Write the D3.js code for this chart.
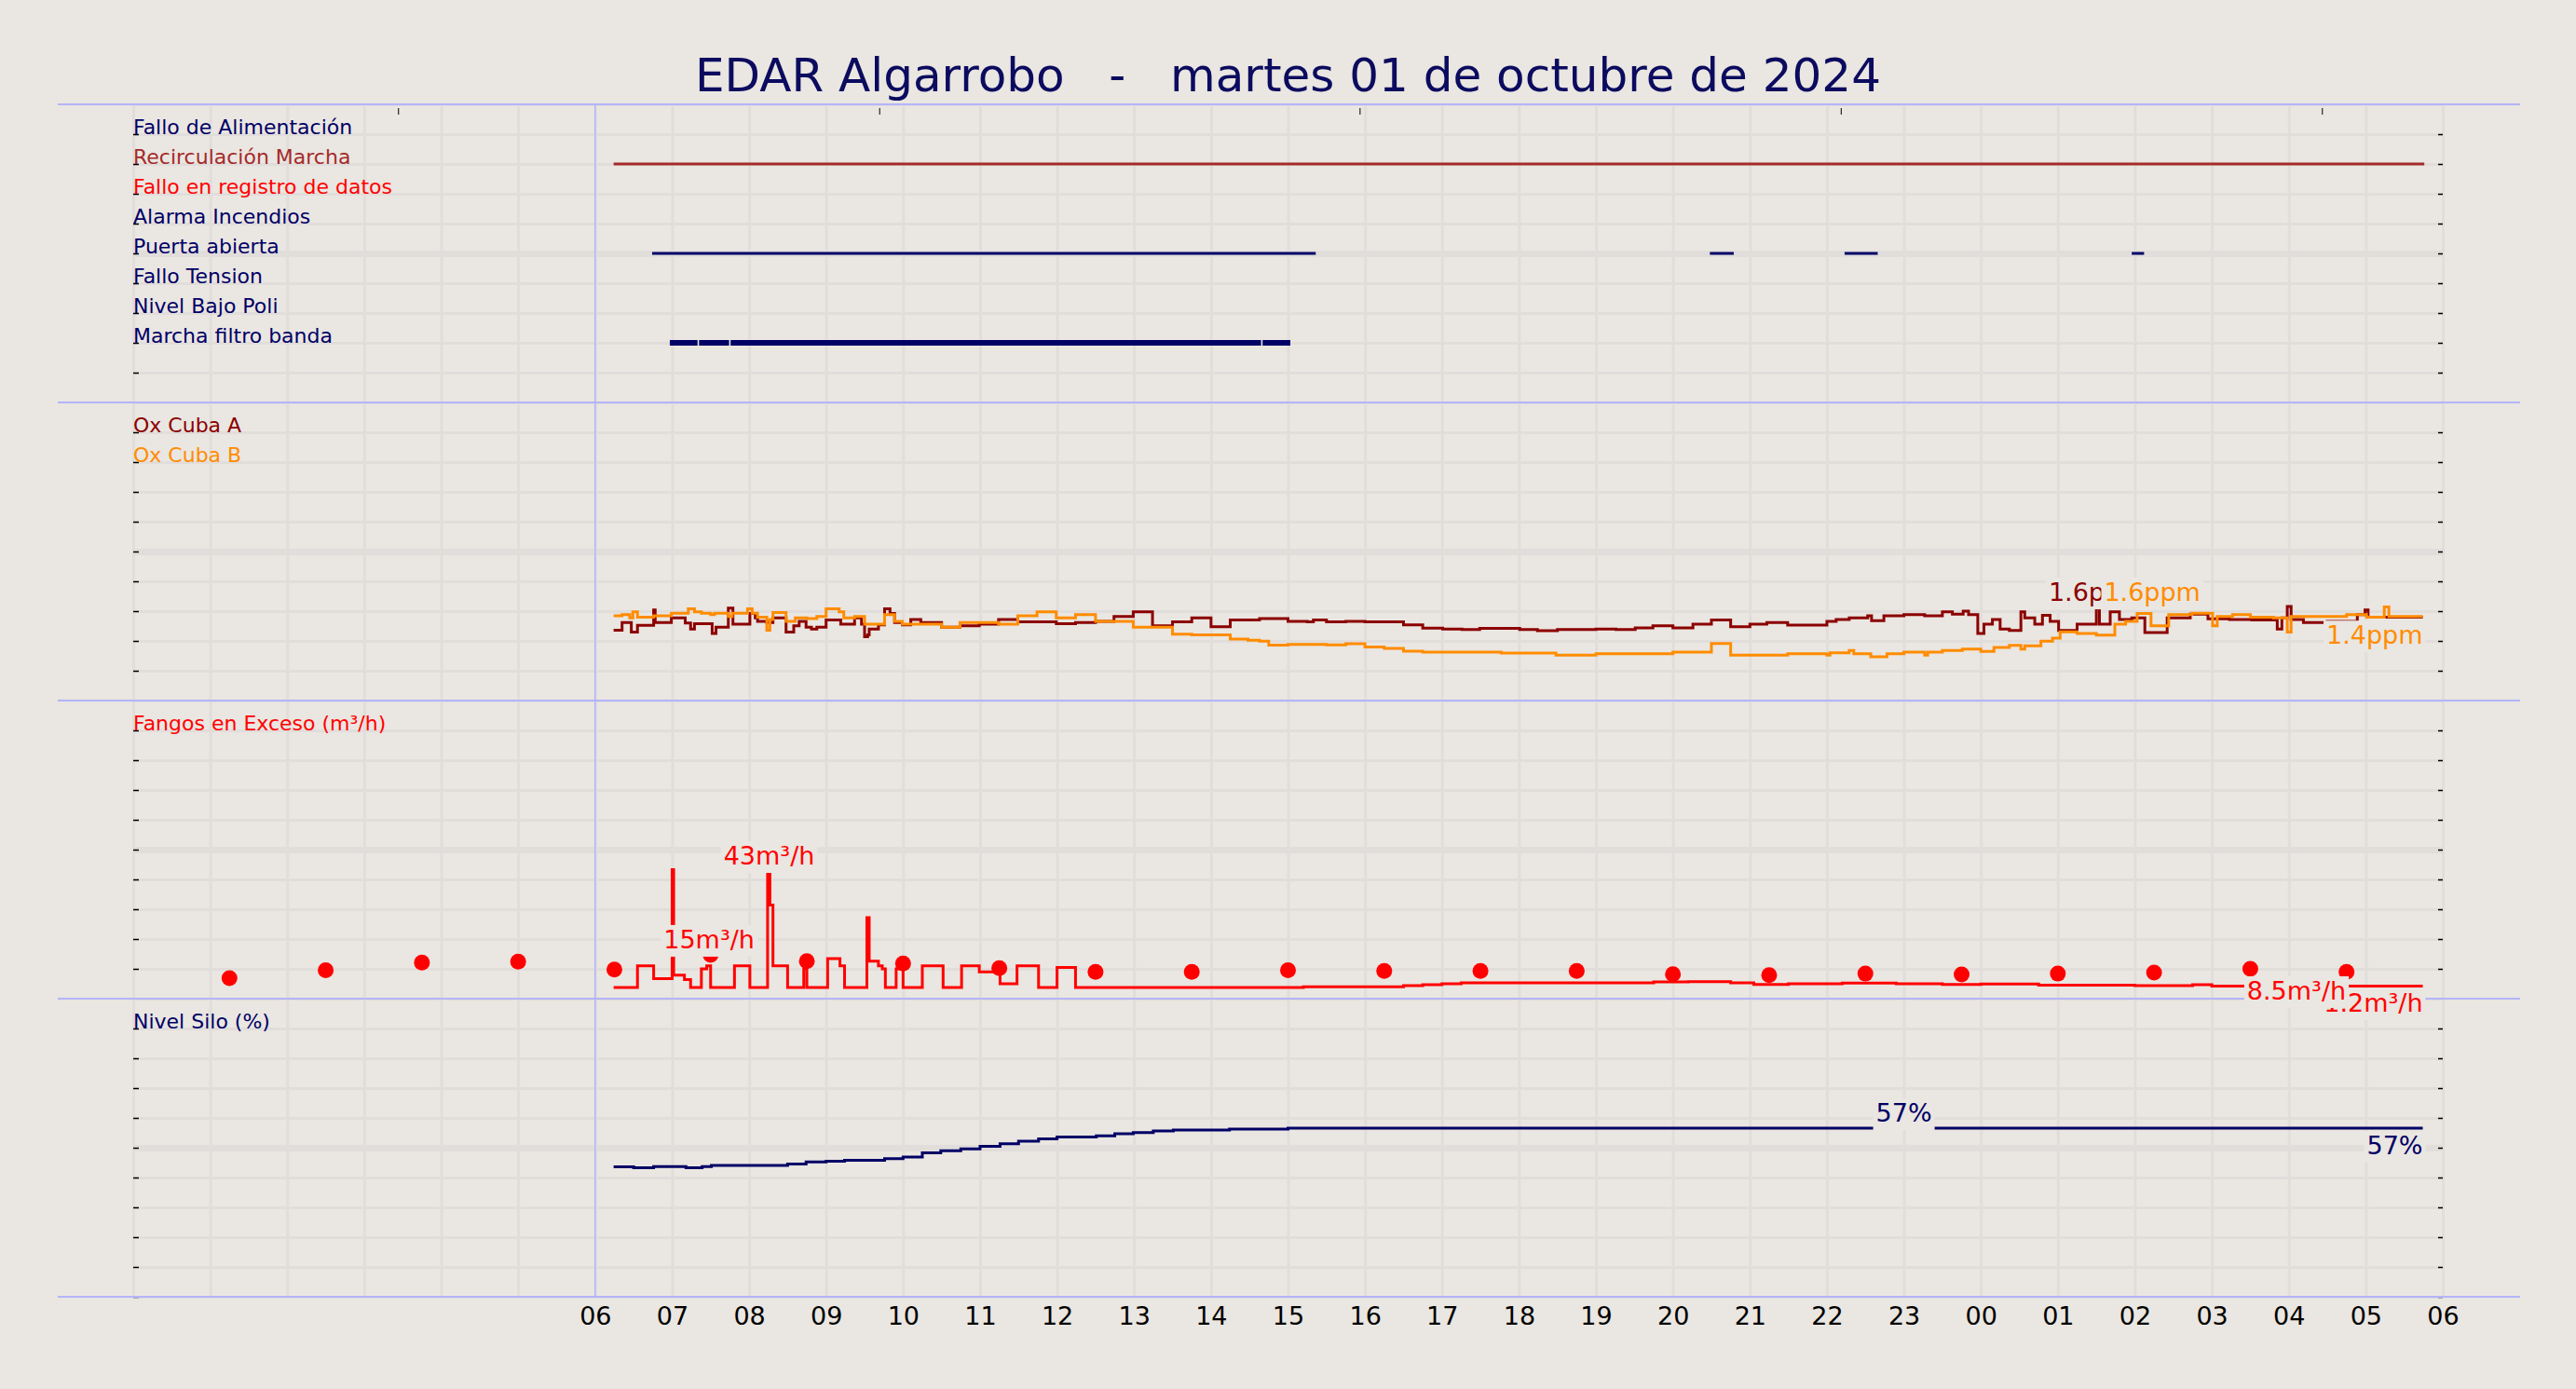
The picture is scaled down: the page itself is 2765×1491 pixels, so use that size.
<!DOCTYPE html>
<html>
<head>
<meta charset="utf-8">
<script src="https://cdn.jsdelivr.net/npm/d3@7"></script>
<style>
  body { margin: 0; background: #eae6e1; }
  svg text { font-family: "DejaVu Sans", sans-serif; }
</style>
</head>
<body>
<svg id="chart" width="2765" height="1491"></svg>
<script>
const title = "EDAR Algarrobo   -   martes 01 de octubre de 2024";
const startHour = 6.24, endHour = 29.74;

// x axis: hours counted from 00:00 of the day
const tickHours = d3.range(6, 31);
const tickLabels = ["06","07","08","09","10","11","12","13","14","15","16","17","18",
  "19","20","21","22","23","00","01","02","03","04","05","06"];
const topTickHours = [3.44, 9.69, 15.93, 22.18, 28.43];

// panel 1: on/off signals
const signalLabels = ["Fallo de Alimentación", "Recirculación Marcha", "Fallo en registro de datos",
  "Alarma Incendios", "Puerta abierta", "Fallo Tension", "Nivel Bajo Poli", "Marcha filtro banda"];
const signalColors = ["#000066", "#a52a2a", "#ff0000", "#000066", "#000066", "#000066", "#000066", "#000066"];
const recirculacion = [[6.24, 29.76]];
const puertaAbierta = [[6.74, 15.36], [20.48, 20.79], [22.23, 22.66], [25.96, 26.12]];
const filtroBanda = [[6.97, 7.33], [7.35, 7.74], [7.76, 14.65], [14.67, 15.03]];

// panel 2: oxygen (ppm)
const oxLabels = ["Ox Cuba A", "Ox Cuba B"];
const oxColors = ["#8b0000", "#ff8c00"];
const oxCubaA = [[6.24,1.18],[6.35,1.31],[6.47,1.15],[6.55,1.26],[6.76,1.52],[6.78,1.31],[6.99,1.385],
  [7.17,1.30],[7.24,1.20],[7.29,1.29],[7.52,1.125],[7.57,1.23],[7.73,1.55],[7.79,1.28],[8.01,1.46],
  [8.08,1.385],[8.11,1.33],[8.23,1.31],[8.31,1.385],[8.48,1.15],[8.58,1.255],[8.65,1.33],[8.74,1.23],
  [8.81,1.20],[8.88,1.23],[9.0,1.35],[9.19,1.28],[9.37,1.385],[9.46,1.28],[9.5,1.07],[9.54,1.10],
  [9.56,1.20],[9.68,1.27],[9.76,1.54],[9.83,1.46],[9.89,1.31],[9.99,1.27],[10.1,1.36],[10.23,1.31],
  [10.5,1.23],[10.74,1.255],[10.99,1.28],[11.24,1.36],[11.49,1.32],[11.99,1.29],[12.24,1.31],[12.5,1.33],
  [12.74,1.41],[12.99,1.49],[13.24,1.255],[13.5,1.32],[13.75,1.385],[14.0,1.24],[14.25,1.35],[14.63,1.375],
  [15.0,1.33],[15.25,1.32],[15.33,1.35],[15.5,1.32],[15.75,1.33],[16.0,1.32],[16.5,1.27],[16.75,1.215],
  [17.01,1.20],[17.26,1.19],[17.49,1.21],[18.01,1.19],[18.24,1.17],[18.5,1.19],[19.0,1.20],[19.26,1.19],
  [19.51,1.22],[19.74,1.255],[20.0,1.22],[20.26,1.28],[20.5,1.35],[20.75,1.24],[21.0,1.28],[21.22,1.31],
  [21.49,1.265],[22.0,1.33],[22.12,1.36],[22.29,1.385],[22.53,1.42],[22.58,1.34],[22.74,1.42],[23.0,1.44],
  [23.27,1.42],[23.5,1.49],[23.63,1.45],[23.77,1.50],[23.84,1.44],[23.96,1.125],[24.04,1.28],[24.15,1.36],
  [24.25,1.20],[24.37,1.175],[24.52,1.49],[24.57,1.385],[24.7,1.28],[24.8,1.43],[24.9,1.33],[25.01,1.175],
  [25.25,1.28],[25.5,1.54],[25.54,1.28],[25.68,1.49],[25.8,1.36],[25.96,1.385],[26.13,1.14],[26.42,1.385],
  [26.72,1.45],[26.95,1.37],[27.23,1.36],[27.52,1.35],[27.85,1.20],[27.91,1.385],[27.98,1.58],[28.03,1.36],
  [28.19,1.31],[28.5,1.33],[28.89,1.44],[28.99,1.52],[29.03,1.40]];
const oxCubaB = [[6.24,1.42],[6.35,1.44],[6.45,1.385],[6.49,1.49],[6.55,1.40],[6.76,1.42],[6.99,1.465],
  [7.21,1.54],[7.29,1.49],[7.38,1.465],[7.5,1.44],[7.55,1.465],[7.73,1.41],[7.78,1.465],[7.98,1.54],
  [8.04,1.465],[8.11,1.40],[8.23,1.18],[8.27,1.36],[8.31,1.475],[8.48,1.33],[8.6,1.385],[8.75,1.375],
  [8.88,1.41],[9.0,1.54],[9.17,1.49],[9.23,1.385],[9.37,1.41],[9.5,1.28],[9.76,1.44],[9.89,1.33],
  [9.99,1.28],[10.5,1.23],[10.74,1.31],[11.24,1.28],[11.49,1.42],[11.74,1.49],[11.99,1.385],[12.24,1.44],
  [12.5,1.33],[12.99,1.23],[13.5,1.115],[13.75,1.10],[14.25,1.03],[14.48,1.01],[14.63,0.995],[14.75,0.93],
  [15.0,0.943],[15.5,0.932],[15.75,0.953],[16.0,0.90],[16.25,0.875],[16.5,0.828],[16.75,0.812],[17.77,0.797],
  [18.48,0.76],[19.0,0.786],[20.0,0.812],[20.5,0.958],[20.75,0.76],[21.49,0.786],[22.0,0.76],[22.04,0.802],
  [22.29,0.838],[22.35,0.786],[22.57,0.734],[22.78,0.786],[23.0,0.812],[23.27,0.76],[23.31,0.812],[23.5,0.838],
  [23.76,0.865],[24.0,0.823],[24.17,0.89],[24.37,0.927],[24.52,0.865],[24.57,0.917],[24.78,0.995],[24.93,1.047],
  [25.03,1.151],[25.25,1.125],[25.5,1.099],[25.74,1.28],[25.88,1.33],[26.03,1.46],[26.21,1.255],[26.44,1.44],
  [26.74,1.465],[27.01,1.255],[27.07,1.41],[27.27,1.44],[27.5,1.40],[27.8,1.385],[27.98,1.15],[28.03,1.41],
  [28.75,1.44],[29.01,1.40],[29.24,1.57],[29.3,1.41]];
const oxNotes = [
  { h: 24.88, v: 1.67, text: "1.6ppm", color: "#8b0000", anchor: "start" },
  { h: 25.6, v: 1.67, text: "1.6ppm", color: "#ff8c00", anchor: "start" },
  { h: 29.74, v: 0.95, text: "1.4ppm", color: "#ff8c00", anchor: "end" }];

// panel 3: excess sludge (m³/h)
const fangosLabel = "Fangos en Exceso (m³/h)";
const fangos = [[6.24,3.75],[6.55,11.0],[6.76,6.7],[7.0,43.3],[7.02,7.9],[7.16,6.4],[7.24,3.75],
  [7.38,10.0],[7.45,11.0],[7.5,3.75],[7.81,11.0],[8.01,3.75],[8.24,42.5],[8.27,31.4],[8.31,11.0],
  [8.5,3.75],[8.71,10.0],[8.75,3.75],[9.02,13.4],[9.18,11.0],[9.24,3.75],[9.53,27.2],[9.56,12.6],
  [9.68,11.0],[9.73,10.0],[9.77,3.75],[9.91,10.0],[10.0,3.75],[10.25,11.0],[10.52,3.75],[10.76,11.0],
  [10.99,9.0],[11.26,5.0],[11.48,11.0],[11.76,3.75],[12.0,10.5],[12.24,3.75],[15.2,4.0],[16.5,4.4],
  [16.75,4.7],[17.0,5.0],[17.25,5.3],[19.75,5.6],[20.2,5.7],[20.75,5.3],[21.05,4.8],[21.5,5.0],
  [22.2,5.2],[22.9,5.0],[23.5,4.8],[24.0,4.9],[24.75,4.5],[26.0,4.4],[26.75,4.7],[27.0,4.2]];
const fangosDotHours = [1.25, 2.5, 3.75, 5, 6.25, 7.5, 8.75, 10, 11.25, 12.5, 13.75, 15, 16.25,
  17.5, 18.75, 20, 21.25, 22.5, 23.75, 25, 26.25, 27.5, 28.75];
const fangosDotValues = [6.9, 9.5, 12.1, 12.4, 9.8, 14.7, 12.6, 11.8, 10.2, 9.0, 9.0, 9.5, 9.3,
  9.3, 9.3, 8.2, 7.9, 8.4, 8.1, 8.4, 8.75, 10.0, 9.0];
const fangosNotes = [
  { h: 8.26, v: 45, text: "43m³/h", color: "#ff0000", anchor: "middle" },
  { h: 7.48, v: 16.9, text: "15m³/h", color: "#ff0000", anchor: "middle" },
  { h: 29.74, v: -4.4, text: "1.2m³/h", color: "#ff0000", anchor: "end" },
  { h: 28.1, v: -0.3, text: "8.5m³/h", color: "#ff0000", anchor: "middle" }];

// panel 4: silo level (%)
const siloLabel = "Nivel Silo (%)";
const silo = [[6.24,43.6],[6.5,43.3],[6.76,43.7],[7.18,43.3],[7.39,43.7],[7.51,44.05],[8.5,44.5],
  [8.74,45.2],[9.0,45.5],[9.24,45.8],[9.76,46.3],[10.0,46.9],[10.25,48.3],[10.49,49.0],[10.75,49.6],
  [11.0,50.5],[11.26,51.35],[11.5,52.2],[11.76,53.0],[12.0,53.6],[12.51,53.95],[12.75,54.7],[12.99,55.1],
  [13.25,55.6],[13.51,55.9],[14.24,56.25],[15.0,56.6]];
const siloNotes = [
  { h: 23.0, v: 58.75, text: "57%", color: "#000066", anchor: "middle" },
  { h: 29.74, v: 47.8, text: "57%", color: "#000066", anchor: "end" }];

// ---- layout
const svg = d3.select("#chart");
const W = 2765, H = 1491;
const plotLeft = 143, plotRight = 2622, plotTop = 112, panelH = 320;
const bg = "#eae6e1", gridColor = "#e1dddb", borderColor = "#b4b4fa";

const x = d3.scaleLinear().domain([0, 30]).range([plotLeft, plotRight]);

const panels = d3.range(4).map(i => {
  const y0 = plotTop + i * panelH;
  return { y0, row: d3.scaleLinear().domain([0, 10]).range([y0 + panelH, y0]) };
});
const yOx = d3.scaleLinear().domain([0, 5]).range([panels[1].y0 + panelH, panels[1].y0]);
const yFangos = d3.scaleLinear().domain([0, 100]).range([panels[2].y0 + panelH, panels[2].y0]);
const ySilo = d3.scaleLinear().domain([0, 100]).range([panels[3].y0 + panelH, panels[3].y0]);

svg.append("rect").attr("width", W).attr("height", H).attr("fill", bg);

svg.append("text")
  .attr("x", W / 2).attr("y", 98)
  .attr("text-anchor", "middle")
  .attr("font-size", 50)
  .attr("fill", "#0b0b5f")
  .style("white-space", "pre")
  .text(title);

// vertical hourly grid
const bottomY = plotTop + 4 * panelH;
svg.append("g")
  .attr("transform", "translate(0," + bottomY + ")")
  .call(d3.axisBottom(x).tickValues(d3.range(0, 31)).tickSizeInner(-4 * panelH).tickSizeOuter(0).tickFormat(""))
  .call(g => g.select(".domain").remove())
  .call(g => g.selectAll("line").attr("stroke", gridColor).attr("stroke-width", 3));

// horizontal grid per panel
panels.forEach(p => {
  svg.append("g")
    .attr("transform", "translate(" + plotLeft + ",0)")
    .call(d3.axisLeft(p.row).tickValues(d3.range(0, 11)).tickSizeInner(-(plotRight - plotLeft)).tickSizeOuter(0).tickFormat(""))
    .call(g => g.select(".domain").remove())
    .call(g => g.selectAll("line")
      .attr("stroke", gridColor)
      .attr("stroke-width", d => d === 5 ? 7 : 3));

  // small inner ticks on both sides
  svg.append("g")
    .attr("transform", "translate(" + plotLeft + ",0)")
    .call(d3.axisLeft(p.row).tickValues(d3.range(0, 10)).tickSizeInner(-6).tickSizeOuter(0).tickFormat(""))
    .call(g => g.select(".domain").remove())
    .call(g => g.selectAll("line").attr("stroke", "#000").attr("stroke-width", 1.5));
  svg.append("g")
    .attr("transform", "translate(" + plotRight + ",0)")
    .call(d3.axisRight(p.row).tickValues(d3.range(0, 10)).tickSizeInner(-5).tickSizeOuter(0).tickFormat(""))
    .call(g => g.select(".domain").remove())
    .call(g => g.selectAll("line").attr("stroke", "#000").attr("stroke-width", 1.5));
});

// small ticks along the top edge
svg.append("g")
  .attr("transform", "translate(0," + (plotTop + 4) + ")")
  .call(d3.axisBottom(x).tickValues(topTickHours).tickSizeInner(7).tickSizeOuter(0).tickFormat(""))
  .call(g => g.select(".domain").remove())
  .call(g => g.selectAll("line").attr("stroke", "#000").attr("stroke-width", 1));

// panel borders and the 06:00 marker
svg.append("g").selectAll("line")
  .data(d3.range(0, 5))
  .join("line")
  .attr("x1", 62).attr("x2", 2705)
  .attr("y1", i => plotTop + i * panelH).attr("y2", i => plotTop + i * panelH)
  .attr("stroke", borderColor).attr("stroke-width", 2);
svg.append("line")
  .attr("x1", x(6)).attr("x2", x(6))
  .attr("y1", plotTop).attr("y2", bottomY)
  .attr("stroke", borderColor).attr("stroke-width", 1.5);

// bottom time labels
svg.append("g")
  .attr("transform", "translate(0," + bottomY + ")")
  .call(d3.axisBottom(x).tickValues(tickHours).tickSize(0).tickPadding(11).tickFormat((d, i) => tickLabels[i]))
  .call(g => g.select(".domain").remove())
  .call(g => g.selectAll("text").attr("font-size", 27).attr("fill", "#000").attr("font-family", "DejaVu Sans"));

// row labels
function rowLabel(p, idx, text, color) {
  svg.append("text")
    .attr("x", plotLeft).attr("y", p.row(9 - idx))
    .attr("font-size", 22)
    .attr("fill", color)
    .text(text);
}
signalLabels.forEach((t, i) => rowLabel(panels[0], i, t, signalColors[i]));
oxLabels.forEach((t, i) => rowLabel(panels[1], i, t, oxColors[i]));
rowLabel(panels[2], 0, fangosLabel, "#ff0000");
rowLabel(panels[3], 0, siloLabel, "#000066");

// panel 1 bars
const signalBars = [
  { idx: 1, segs: recirculacion, width: 3 },
  { idx: 4, segs: puertaAbierta, width: 3 },
  { idx: 7, segs: filtroBanda, width: 6 }];
signalBars.forEach(s => {
  svg.append("g").selectAll("line")
    .data(s.segs)
    .join("line")
    .attr("x1", d => x(d[0])).attr("x2", d => x(d[1]))
    .attr("y1", panels[0].row(9 - s.idx)).attr("y2", panels[0].row(9 - s.idx))
    .attr("stroke", signalColors[s.idx])
    .attr("stroke-width", s.width);
});

// step lines
function stepLine(data, yScale, color, width) {
  const pts = data.concat([[endHour, data[data.length - 1][1]]]);
  const line = d3.line()
    .curve(d3.curveStepAfter)
    .x(d => x(d[0]))
    .y(d => yScale(d[1]));
  svg.append("path")
    .datum(pts)
    .attr("fill", "none")
    .attr("stroke", color)
    .attr("stroke-width", width)
    .attr("d", line);
}
stepLine(oxCubaA, yOx, oxColors[0], 3);
stepLine(oxCubaB, yOx, oxColors[1], 3);
stepLine(fangos, yFangos, "#ff0000", 3);
stepLine(silo, ySilo, "#000066", 3);

// daily sludge dots
svg.append("g").selectAll("circle")
  .data(fangosDotHours)
  .join("circle")
  .attr("cx", d => x(d))
  .attr("cy", (d, i) => yFangos(fangosDotValues[i]))
  .attr("r", 8.5)
  .attr("fill", "#ff0000");

// value notes with a background box
function notes(list, yScale) {
  list.forEach(d => {
    const t = svg.append("text")
      .attr("x", x(d.h)).attr("y", yScale(d.v))
      .attr("text-anchor", d.anchor)
      .attr("font-size", 27)
      .attr("fill", d.color)
      .text(d.text);
    const b = t.node().getBBox();
    svg.insert("rect", () => t.node())
      .attr("x", b.x - 3).attr("y", b.y)
      .attr("width", b.width + 6).attr("height", b.height + 3)
      .attr("fill", bg);
  });
}
notes(oxNotes, yOx);
notes(fangosNotes, yFangos);
notes(siloNotes, ySilo);
</script>
</body>
</html>
